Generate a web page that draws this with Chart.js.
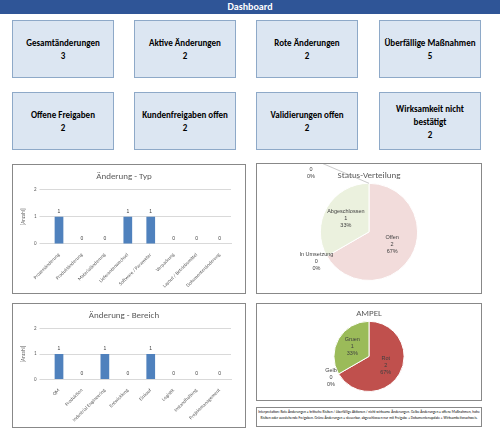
<!DOCTYPE html>
<html><head><meta charset="utf-8">
<script src="https://cdn.jsdelivr.net/npm/chart.js@4"></script>
<style>
body{margin:0;width:500px;height:428px;background:#fff;font-family:Calibri,"Liberation Sans",Arial,sans-serif;position:relative;overflow:hidden}
.hdr{position:absolute;left:0;top:0;width:500px;height:14px;background:#2F5597;color:#fff;font-weight:bold;font-size:10px;text-align:center;line-height:14px}
.card{position:absolute;width:102px;height:58px;background:#DCE6F2;border:1px solid #8EA9C8;box-sizing:border-box;text-align:center;font-weight:bold;font-size:9px;color:#000;display:flex;flex-direction:column;justify-content:center;line-height:13px}
.box{position:absolute;border:1px solid #888;box-sizing:border-box;background:#fff}
.box canvas{position:absolute;left:0;top:0}
.note{position:absolute;left:256px;top:407px;width:226px;height:20px;border:1px solid #888;box-sizing:border-box;font-size:3.6px;text-align:center;line-height:6px;padding-top:1px}
</style></head><body>
<div class="hdr">Dashboard</div>
<div id="cards"></div>
<div class="box" style="left:12px;top:164px;width:234px;height:130px"><canvas id="c1" width="232" height="128"></canvas></div>
<div class="box" style="left:256px;top:163px;width:226px;height:131px"><canvas id="c2" width="224" height="129"></canvas></div>
<div class="box" style="left:12px;top:303px;width:234px;height:125px"><canvas id="c3" width="232" height="123"></canvas></div>
<div class="box" style="left:256px;top:303px;width:226px;height:98px"><canvas id="c4" width="224" height="96"></canvas></div>
<div class="note">Interpretation: Rote Änderungen = kritische Risiken / überfällige Aktionen / nicht wirksame Änderungen. Gelbe Änderungen = offene Maßnahmen, hohe Risiken oder ausstehende Freigaben. Grüne Änderungen = steuerbar, abgeschlossen nur mit Freigabe + Dokumentenupdate + Wirksamkeitsnachweis.</div>
<script>
const kpiLabels=["Gesamtänderungen","Aktive Änderungen","Rote Änderungen","Überfällige Maßnahmen","Offene Freigaben","Kundenfreigaben offen","Validierungen offen","Wirksamkeit nicht bestätigt"];
const kpiValues=[3,2,2,5,2,2,2,2];
const typLabels=["Prozessänderung","Produktänderung","Materialänderung","Lieferantenwechsel","Software / Parameter","Verpackung","Layout / Betriebsmittel","Dokumentenänderung"];
const typValues=[1,0,0,1,1,0,0,0];
const bereichLabels=["QM","Produktion","Industrial Engineering","Entwicklung","Einkauf","Logistik","Instandhaltung","Projektmanagement"];
const bereichValues=[1,0,1,0,1,0,0,0];
const statusLabels=["Offen","In Umsetzung","Abgeschlossen","Blockiert"];
const statusValues=[2,0,1,0];
const ampelLabels=["Rot","Gelb","Gruen"];
const ampelValues=[2,0,1];

const xs=[12,134,256,379],ys=[20,92];
let h='';kpiLabels.forEach((l,i)=>{h+=`<div class="card" style="left:${xs[i%4]}px;top:${ys[Math.floor(i/4)]}px"><div>${l}</div><div>${kpiValues[i]}</div></div>`});
document.getElementById('cards').innerHTML=h;
Chart.defaults.font.family='Calibri,"Liberation Sans",Arial,sans-serif';
Chart.defaults.color='#595959';
const valLbl={id:'vl',afterDatasetsDraw(c){const x=c.ctx;x.save();x.font='5px Arial';x.fillStyle='#404040';x.textAlign='center';
 c.getDatasetMeta(0).data.forEach((b,i)=>{x.fillText(c.data.datasets[0].data[i],b.x,b.y-4)});x.restore();}};
function bar(id,title,labels,vals){new Chart(document.getElementById(id),{type:'bar',data:{labels,datasets:[{data:vals,backgroundColor:'#4F81BD',barPercentage:0.38,categoryPercentage:1}]},
 options:{responsive:false,animation:false,layout:{padding:{left:4,right:14,top:2,bottom:4}},plugins:{legend:{display:false},tooltip:{enabled:false},title:{display:true,text:title,color:'#595959',font:{size:9,weight:'normal'},padding:{top:4,bottom:8}}},
 scales:{y:{min:0,max:2,ticks:{stepSize:1,font:{size:5}},grid:{color:'#D9D9D9'},border:{display:false},title:{display:true,text:'[Anzahl]',font:{size:5}}},
 x:{grid:{display:false},border:{color:'#D9D9D9'},ticks:{maxRotation:45,minRotation:45,font:{size:5},padding:0}}}},plugins:[valLbl]});}
bar('c1','Änderung - Typ',typLabels,typValues);
bar('c3','Änderung - Bereich',bereichLabels,bereichValues);
const pieLbl={id:'pl',afterDatasetsDraw(c){const x=c.ctx;const d=c.data.datasets[0].data;const tot=d.reduce((a,b)=>a+b,0);x.save();x.font='5.5px Arial';x.textAlign='center';
 const n=c.data.labels.length;
 c.getDatasetMeta(0).data.forEach((a,i)=>{let r,ang;
 if(d[i]>0){ang=(a.startAngle+a.endAngle)/2;r=a.outerRadius*0.55;}
 else if(i===n-1){ang=a.startAngle-0.75;r=a.outerRadius*1.75;x.strokeStyle='#A6A6A6';x.lineWidth=0.6;x.beginPath();x.moveTo(a.x,a.y-a.outerRadius);x.lineTo(a.x+Math.cos(ang)*r+12,a.y+Math.sin(ang)*r-6);x.stroke();}
 else{ang=a.startAngle;r=a.outerRadius*1.25;}
 const px=a.x+Math.cos(ang)*r,py=a.y+Math.sin(ang)*r;x.fillStyle='#404040';
 [c.data.labels[i],d[i],Math.round(d[i]/tot*100)+'%'].forEach((t,k)=>x.fillText(t,px,py-6+k*7));});x.restore();}};
function pie(id,title,labels,vals,cols,pad){new Chart(document.getElementById(id),{type:'pie',data:{labels,datasets:[{data:vals,backgroundColor:cols,borderColor:'#fff',borderWidth:1}]},
 options:{responsive:false,animation:false,layout:{padding:pad},plugins:{legend:{display:false},tooltip:{enabled:false},title:{display:true,text:title,color:'#595959',font:{size:9,weight:'normal'},padding:{top:4,bottom:2}}}},plugins:[pieLbl]});}
pie('c2','Status-Verteilung',statusLabels,statusValues,['#F2DCDB','#DCE6F2','#EBF1DE','#FCD5B4'],{left:0,right:0,top:2,bottom:12});
pie('c4','AMPEL',ampelLabels,ampelValues,['#C0504D','#FFC000','#9BBB59'],{left:0,right:0,top:0,bottom:8});
</script></body></html>
